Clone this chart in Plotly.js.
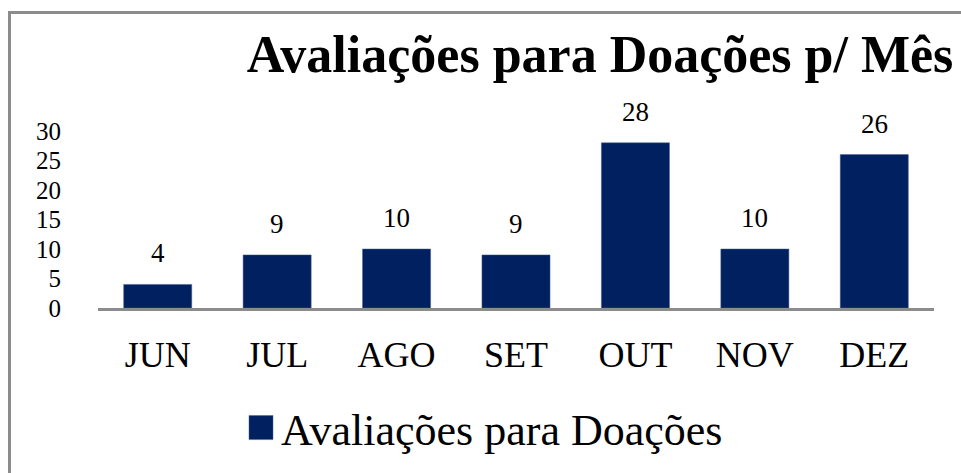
<!DOCTYPE html>
<html><head><meta charset="utf-8">
<script src="https://cdn.plot.ly/plotly-3.0.1.min.js"></script>
<style>
html,body{margin:0;padding:0;background:#fff;overflow:hidden;}
#frame{position:absolute;left:8px;top:11px;width:1100px;height:600px;border:3px solid #8c8c8c;box-sizing:border-box;}
#chart{position:absolute;left:0;top:0;width:961px;height:473px;}
</style></head>
<body>
<div id="frame"></div>
<div id="chart"></div>
<script>
const months = ["JUN","JUL","AGO","SET","OUT","NOV","DEZ"];
const values = [4, 9, 10, 9, 28, 10, 26];
const seriesName = "Avaliações para Doações";
const chartTitle = "Avaliações para Doações p/ Mês";
const yTicks = [0, 5, 10, 15, 20, 25, 30];

const serif = '"Liberation Serif", "Times New Roman", serif';
const trace = {
  type: "bar", x: months, y: values, name: seriesName,
  marker: {color: "#002060", line: {color: "#4a6090", width: 0.5}},
  showlegend: true, hoverinfo: "none"
};
const annotations = months.map(function(m, i){
  return {x: m, y: values[i], xref: "x", yref: "y", text: String(values[i]), showarrow: false,
          yanchor: "bottom", yshift: 14, font: {family: serif, size: 27, color: "#000"}};
});
const layout = {
  width: 961, height: 473,
  paper_bgcolor: "rgba(0,0,0,0)", plot_bgcolor: "rgba(0,0,0,0)",
  margin: {l: 98, r: 27, t: 131, b: 164, pad: 0},
  bargap: 0.43,
  annotations: annotations,
  title: {text: "<b>" + chartTitle + "</b>", font: {family: serif, size: 52, color: "#000"},
          x: 600/961, xanchor: "center", y: 1 - 54/473, yanchor: "middle"},
  xaxis: {showline: true, linecolor: "#8c8c8c", linewidth: 3, showgrid: false, ticks: "",
          tickfont: {family: serif, size: 36, color: "#000"}, ticklabelstandoff: 13},
  yaxis: {range: [0, 30], tickvals: yTicks, showline: false, showgrid: false, zeroline: false, ticks: "",
          tickfont: {family: serif, size: 25, color: "#000"}, ticklabelstandoff: 36},
  showlegend: true,
  legend: {orientation: "h", x: (241 - 98) / 836, xanchor: "left", y: (309 - 428) / 178, yanchor: "middle",
           font: {family: serif, size: 44, color: "#000"}, bgcolor: "rgba(0,0,0,0)"},
  hovermode: false
};
Plotly.newPlot("chart", [trace], layout, {displayModeBar: false}).then(function(gd){
  document.querySelectorAll("#chart .legendpoints path").forEach(function(p){
    p.setAttribute("d", "M12,12H-12V-12H12Z");
  });
});
</script>
</body></html>
